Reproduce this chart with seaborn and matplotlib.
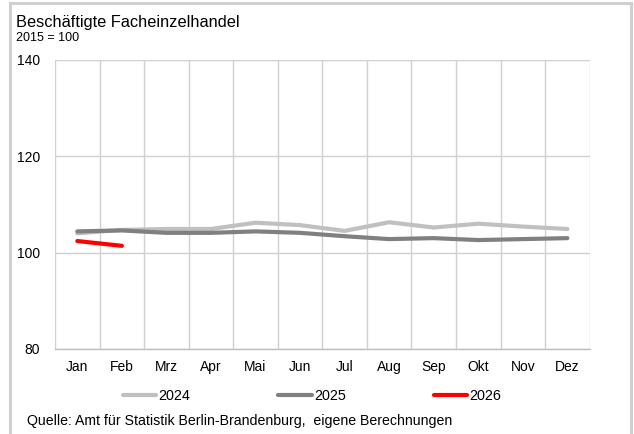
import matplotlib
matplotlib.use("Agg")
import matplotlib.pyplot as plt
import seaborn as sns
import pandas as pd
import numpy as np
from matplotlib.patches import Rectangle
from matplotlib.lines import Line2D

#%% data
months = ["Jan", "Feb", "Mrz", "Apr", "Mai", "Jun", "Jul", "Aug", "Sep", "Okt", "Nov", "Dez"]
v2024 = [104.0, 104.7, 104.9, 104.9, 106.2, 105.7, 104.5, 106.3, 105.2, 106.0, 105.4, 104.9]
v2025 = [104.4, 104.6, 104.1, 104.1, 104.4, 104.1, 103.4, 102.8, 103.0, 102.6, 102.8, 103.0]
v2026 = [102.4, 101.4]
years = ["2024", "2025", "2026"]
colors = {"2024": "#C0C0C0", "2025": "#808080", "2026": "#FF0000"}

#%% long table
rows = []
for yr, vals in zip(years, [v2024, v2025, v2026]):
    for i, v in enumerate(vals):
        rows.append({"year": yr, "idx": i, "month": months[i], "value": v})
df = pd.DataFrame(rows)

#%% plot
sns.set_style("white")
plt.rcParams['font.family'] = ['Liberation Sans', 'DejaVu Sans']
plt.rcParams['text.color'] = 'black'

fig = plt.figure(figsize=(6.34, 4.34), dpi=100)
ax = fig.add_axes([0.0868, 0.196, 0.8432, 0.666])

sns.lineplot(data=df, x="idx", y="value", hue="year", palette=colors,
             linewidth=3, ax=ax, legend=False, sort=False)

ax.set_xlim(-0.5, 11.5)
ax.set_ylim(80, 140)
ax.set_yticks([80, 100, 120, 140])
ax.set_xticks(range(12))
ax.set_xticklabels(months)
ax.set_xticks(np.arange(-0.5, 12, 1), minor=True)
ax.grid(False)
ax.grid(True, axis="y", which="major", color="#D0D0D0", linewidth=1)
ax.grid(True, axis="x", which="minor", color="#D0D0D0", linewidth=1)
ax.tick_params(axis="both", which="both", length=0, labelsize=10, labelcolor="black")
ax.tick_params(axis="x", pad=8)
ax.tick_params(axis="y", pad=11)
ax.set_xlabel("")
ax.set_ylabel("")
for s in ["top", "right", "left"]:
    ax.spines[s].set_visible(False)
ax.spines["bottom"].set_color("#BFBFBF")
ax.spines["bottom"].set_linewidth(1)
ax.set_axisbelow(True)

#%% texts
fig.text(0.025, 0.938, "Beschäftigte Facheinzelhandel", fontsize=11.8, va="baseline", ha="left")
fig.text(0.025, 0.906, "2015 = 100", fontsize=9, va="baseline", ha="left")
fig.text(0.042, 0.021, "Quelle: Amt für Statistik Berlin-Brandenburg,  eigene Berechnungen",
         fontsize=10.2, va="baseline", ha="left")

handles = [Line2D([0], [0], color=colors[y], linewidth=3) for y in years]
fig.legend(handles, years, loc="center left", bbox_to_anchor=(0.194, 0.088),
           ncol=3, frameon=False, fontsize=10.4, handlelength=2.3,
           handletextpad=0.15, columnspacing=6.1, borderaxespad=0, borderpad=0)

fig.patches.append(Rectangle((0.015, -0.02), 0.9795, 1.014, transform=fig.transFigure,
                             fill=False, edgecolor="#D0D0D0", linewidth=2.2))

fig.savefig("out.png", dpi=100)
